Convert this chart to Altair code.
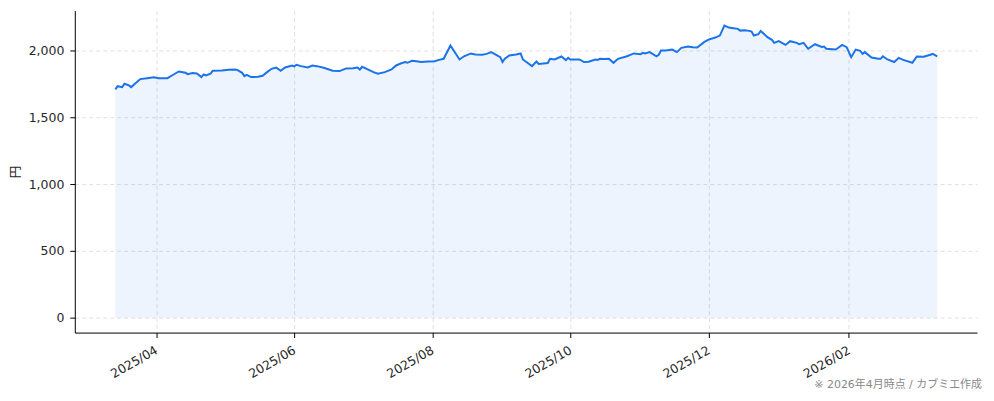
import altair as alt
import pandas as pd

dates = [
    "2025-03-14", "2025-03-15", "2025-03-17", "2025-03-18", "2025-03-20", "2025-03-21",
    "2025-03-23", "2025-03-25", "2025-03-28", "2025-03-31", "2025-04-02", "2025-04-06",
    "2025-04-08", "2025-04-11", "2025-04-14", "2025-04-15", "2025-04-17", "2025-04-19",
    "2025-04-21", "2025-04-22", "2025-04-23", "2025-04-25", "2025-04-26", "2025-04-30",
    "2025-05-03", "2025-05-06", "2025-05-07", "2025-05-09", "2025-05-10", "2025-05-11",
    "2025-05-13", "2025-05-16", "2025-05-18", "2025-05-20", "2025-05-22", "2025-05-24",
    "2025-05-25", "2025-05-26", "2025-05-28", "2025-05-31", "2025-06-01", "2025-06-02",
    "2025-06-04", "2025-06-07", "2025-06-09", "2025-06-11", "2025-06-14", "2025-06-18",
    "2025-06-21", "2025-06-24", "2025-06-27", "2025-06-29", "2025-06-30", "2025-07-01",
    "2025-07-03", "2025-07-06", "2025-07-08", "2025-07-11", "2025-07-14", "2025-07-16",
    "2025-07-18", "2025-07-20", "2025-07-21", "2025-07-23", "2025-07-25", "2025-07-27",
    "2025-07-30", "2025-08-02", "2025-08-04", "2025-08-06", "2025-08-09", "2025-08-13",
    "2025-08-15", "2025-08-18", "2025-08-20", "2025-08-23", "2025-08-25", "2025-08-27",
    "2025-08-29", "2025-08-31", "2025-09-01", "2025-09-02", "2025-09-04", "2025-09-07",
    "2025-09-09", "2025-09-10", "2025-09-12", "2025-09-14", "2025-09-16", "2025-09-17",
    "2025-09-21", "2025-09-22", "2025-09-24", "2025-09-27", "2025-09-29", "2025-09-30",
    "2025-10-01", "2025-10-05", "2025-10-07", "2025-10-09", "2025-10-12", "2025-10-13",
    "2025-10-14", "2025-10-16", "2025-10-18", "2025-10-20", "2025-10-22", "2025-10-26",
    "2025-10-29", "2025-11-01", "2025-11-02", "2025-11-03", "2025-11-05", "2025-11-08",
    "2025-11-09", "2025-11-10", "2025-11-12", "2025-11-15", "2025-11-17", "2025-11-19",
    "2025-11-22", "2025-11-24", "2025-11-26", "2025-11-29", "2025-12-01", "2025-12-04",
    "2025-12-06", "2025-12-08", "2025-12-10", "2025-12-12", "2025-12-14", "2025-12-15",
    "2025-12-17", "2025-12-19", "2025-12-20", "2025-12-21", "2025-12-23", "2025-12-24",
    "2025-12-26", "2025-12-27", "2025-12-29", "2025-12-30", "2026-01-01", "2026-01-04",
    "2026-01-06", "2026-01-09", "2026-01-10", "2026-01-12", "2026-01-14", "2026-01-17",
    "2026-01-20", "2026-01-21", "2026-01-22", "2026-01-26", "2026-01-27", "2026-01-29",
    "2026-01-31", "2026-02-01", "2026-02-02", "2026-02-04", "2026-02-06", "2026-02-07",
    "2026-02-08", "2026-02-11", "2026-02-14", "2026-02-15", "2026-02-16", "2026-02-18",
    "2026-02-21", "2026-02-23", "2026-02-25", "2026-03-01", "2026-03-03", "2026-03-06",
    "2026-03-09", "2026-03-10", "2026-03-12",
]

prices = [
    1709, 1733, 1726, 1751, 1739, 1726,
    1756, 1786, 1793, 1799, 1793, 1793,
    1813, 1843, 1833, 1823, 1831, 1828,
    1801, 1821, 1813, 1826, 1848, 1851,
    1856, 1858, 1853, 1833, 1808, 1818,
    1801, 1803, 1811, 1838, 1863, 1873,
    1861, 1848, 1873, 1888, 1881, 1893,
    1883, 1873, 1888, 1883, 1871, 1848,
    1846, 1866, 1868, 1873, 1858, 1878,
    1863, 1838, 1826, 1838, 1858, 1888,
    1903, 1914, 1908, 1923, 1920, 1914,
    1918, 1920, 1930, 1938, 2037, 1933,
    1957, 1978, 1970, 1968, 1975, 1988,
    1970, 1950, 1914, 1938, 1963, 1970,
    1978, 1933, 1908, 1883, 1918, 1900,
    1906, 1938, 1933, 1955, 1928, 1945,
    1933, 1933, 1914, 1916, 1933, 1930,
    1938, 1936, 1938, 1908, 1938, 1957,
    1978, 1973, 1983, 1978, 1988, 1957,
    1968, 2000, 2000, 2007, 1988, 2020,
    2030, 2025, 2022, 2063, 2082, 2097,
    2112, 2187, 2172, 2167, 2162, 2149,
    2152, 2147, 2142, 2112, 2122, 2147,
    2117, 2100, 2080, 2057, 2070, 2042,
    2070, 2057, 2047, 2057, 2013, 2047,
    2027, 2030, 2013, 2007, 2017, 2042,
    2025, 1988, 1950, 2007, 1998, 1975,
    1988, 1948, 1938, 1938, 1957, 1933,
    1914, 1945, 1930, 1908, 1955, 1953,
    1968, 1975, 1957,
]

tick_months = ["2025-04-01", "2025-06-01", "2025-08-01", "2025-10-01", "2025-12-01", "2026-02-01"]
y_ticks = [0, 500, 1000, 1500, 2000]
x_domain = ["2025-02-24 02:00", "2026-03-29 14:00"]
y_domain = [-112, 2299]

y_title = "円"
footnote = "※ 2026年4月時点 / カブミエ作成"


def ms(s):
    return int(pd.Timestamp(s, tz="UTC").timestamp() * 1000)


df = pd.DataFrame({"date": dates, "price": prices})
note_df = pd.DataFrame({"note": [footnote]})

LINE = "#1a73e8"
FONT = "DejaVu Sans, Noto Sans CJK JP"
TXT = "#262626"

x_enc = alt.X(
    "date:T",
    scale=alt.Scale(type="utc", domain=[ms(d) for d in x_domain], nice=False),
    axis=alt.Axis(
        values=[ms(d) for d in tick_months],
        labelExpr="utcFormat(datum.value, '%Y/%m')",
        labelAngle=-30,
        labelAlign="right",
        labelBaseline="top",
        labelPadding=6,
        labelOffset=-3,
        title=None,
    ),
)
y_enc = alt.Y(
    "price:Q",
    scale=alt.Scale(domain=y_domain, nice=False, zero=False),
    axis=alt.Axis(
        values=y_ticks,
        format=",d",
        title=y_title,
        titlePadding=6,
        titleFontWeight="normal",
        labelPadding=6,
    ),
)

area = alt.Chart(df).mark_area(color=LINE, opacity=0.08).encode(
    x=x_enc, y=y_enc, y2=alt.datum(0)
)
line = alt.Chart(df).mark_line(color=LINE, strokeWidth=2).encode(x=x_enc, y=y_enc)

note = alt.Chart(note_df).mark_text(
    align="right", baseline="middle", fontSize=11, color="#888888", font=FONT
).encode(text="note:N", x=alt.value(910), y=alt.value(376))

chart = (
    alt.layer(area, line, note)
    .properties(
        width=905,
        height=323,
        autosize=alt.AutoSizeParams(type="none"),
        padding={"left": 67, "top": 2, "right": 9, "bottom": 58},
    )
    .configure_view(stroke=None)
    .configure_axis(
        labelFont=FONT,
        titleFont=FONT,
        labelFontSize=12.5,
        titleFontSize=12.5,
        labelColor=TXT,
        titleColor=TXT,
        domainColor="#000000",
        domainWidth=1,
        tickColor="#000000",
        tickSize=5,
        tickWidth=1,
        gridColor="#dddddd",
        gridDash=[4, 3],
        gridWidth=0.9,
    )
)

chart.save("out.html", embed_options={"renderer": "svg", "actions": False})
